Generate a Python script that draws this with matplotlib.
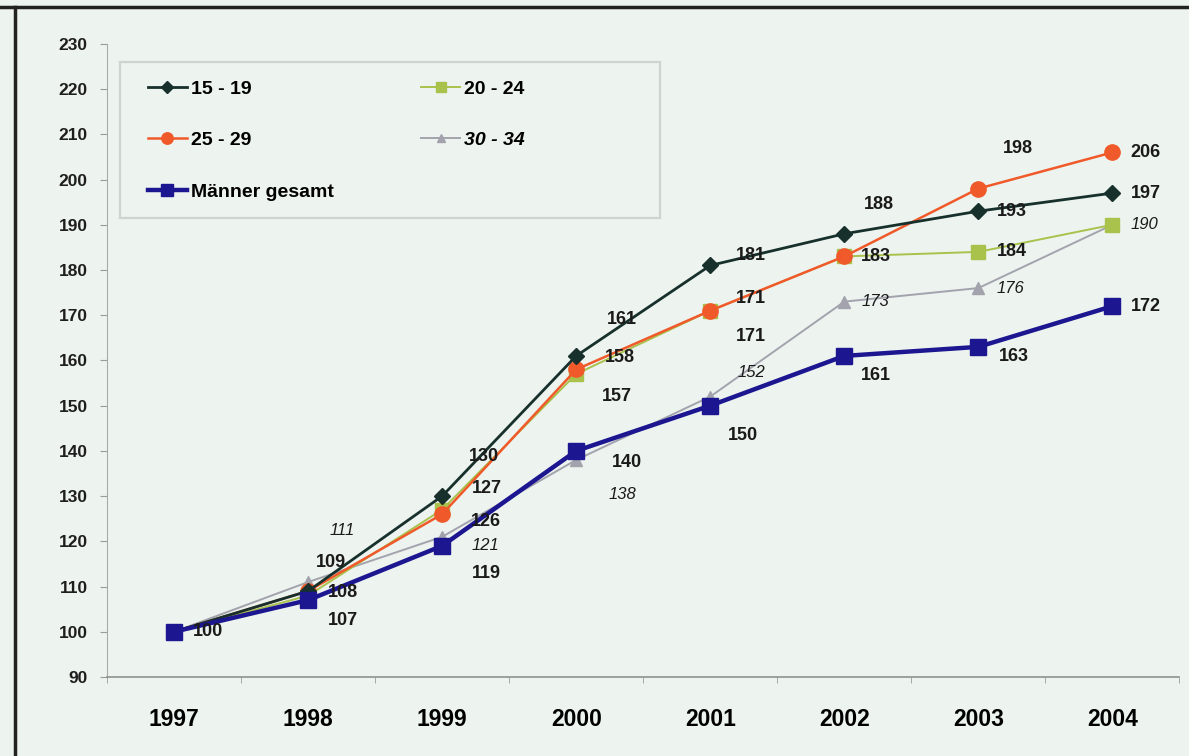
import matplotlib.pyplot as plt
import matplotlib.lines as mlines
import matplotlib.patches as mpatches

# data
years = ['1997', '1998', '1999', '2000', '2001', '2002', '2003', '2004']
age_15_19 = [100, 109, 130, 161, 181, 188, 193, 197]
age_20_24 = [100, 108, 127, 157, 171, 183, 184, 190]
age_25_29 = [100, 109, 126, 158, 171, 183, 198, 206]
age_30_34 = [100, 111, 121, 138, 152, 173, 176, 190]
maenner = [100, 107, 119, 140, 150, 161, 163, 172]

plt.rcParams['font.family'] = ['Liberation Sans', 'DejaVu Sans']

bg = '#edf3ef'
fig = plt.figure(figsize=(11.89, 7.56), dpi=100)
fig.patch.set_facecolor(bg)
ax = fig.add_axes([0.090, 0.1045, 0.902, 0.8375])
ax.set_facecolor(bg)

x = list(range(len(years)))

# series styles: (values, label, color, marker, ms, lw)
series = [
    (age_15_19, '15 - 19', '#17302c', 'D', 8, 2.0),
    (age_25_29, '25 - 29', '#f05a2a', 'o', 11, 1.8),
    (maenner, 'Männer gesamt', '#1c1690', 's', 12, 3.2),
    (age_20_24, '20 - 24', '#a9c24c', 's', 10, 1.4),
    (age_30_34, '30 - 34', '#a3a3ad', '^', 8, 1.4),
]

# draw order: background series first
draw_order = [4, 3, 1, 0, 2]
handles = {}
for i in draw_order:
    vals, lab, col, mk, ms, lw = series[i]
    ln, = ax.plot(x, vals, color=col, marker=mk, markersize=ms, lw=lw,
                  markeredgecolor=col, label=lab, zorder=3 + (i == 2))
    handles[i] = ln

# value labels: (series values, index, dx px, dy px (down positive), ha, italic)
labels = [
    (maenner, 0, 19, 0, 'left', False),
    (age_30_34, 1, 34, -52, 'center', True),
    (age_15_19, 1, 23, -29, 'center', False),
    (age_20_24, 1, 20, -3, 'left', False),
    (maenner, 1, 20, 20, 'left', False),
    (age_15_19, 2, 42, -40, 'center', False),
    (age_20_24, 2, 30, -21, 'left', False),
    (age_25_29, 2, 29, 7, 'left', False),
    (age_30_34, 2, 29, 9, 'left', True),
    (maenner, 2, 30, 28, 'left', False),
    (age_15_19, 3, 46, -36, 'center', False),
    (age_25_29, 3, 29, -12, 'left', False),
    (age_20_24, 3, 26, 23, 'left', False),
    (maenner, 3, 36, 12, 'left', False),
    (age_30_34, 3, 46, 35, 'center', True),
    (age_15_19, 4, 26, -10, 'left', False),
    (age_25_29, 4, 26, -12, 'left', False),
    (age_20_24, 4, 26, 26, 'left', False),
    (age_30_34, 4, 27, -24, 'left', True),
    (maenner, 4, 33, 30, 'center', False),
    (age_15_19, 5, 35, -29, 'center', False),
    (age_25_29, 5, 17, 0, 'left', False),
    (age_30_34, 5, 17, 0, 'left', True),
    (maenner, 5, 17, 20, 'left', False),
    (age_25_29, 6, 39, -40, 'center', False),
    (age_15_19, 6, 18, 0, 'left', False),
    (age_20_24, 6, 18, 0, 'left', False),
    (age_30_34, 6, 18, 0, 'left', True),
    (maenner, 6, 20, 10, 'left', False),
    (age_25_29, 7, 18, 0, 'left', False),
    (age_15_19, 7, 18, 0, 'left', False),
    (age_30_34, 7, 18, 0, 'left', True),
    (maenner, 7, 18, 0, 'left', False),
]
for vals, i, dx, dy, ha, it in labels:
    ax.annotate(str(vals[i]), (i, vals[i]), xytext=(dx, -dy),
                textcoords='offset pixels', ha=ha, va='center',
                fontsize=13 if not it else 12,
                fontweight='normal' if it else 'bold',
                fontstyle='italic' if it else 'normal',
                color='#1a1a1a', zorder=6)

ax.set_xlim(-0.5, 7.5)
ax.set_ylim(90, 230)
ax.set_yticks(range(90, 231, 10))
ax.set_xticks(x)
ax.set_xticklabels(years)
ax.set_xticks([i + 0.5 for i in range(-1, 8)], minor=True)
ax.tick_params(axis='x', which='major', length=0, labelsize=16.5, pad=22)
ax.tick_params(axis='x', which='minor', length=4, color='#9a9a9a')
ax.tick_params(axis='y', length=5, color='#9a9a9a', labelsize=12.5, pad=9,
               labelcolor='#1e1e1e')
for t in ax.get_xticklabels() + ax.get_yticklabels():
    t.set_fontweight('bold')
for s in ['top', 'right']:
    ax.spines[s].set_visible(False)
ax.spines['left'].set_color('#a8aca9')
ax.spines['bottom'].set_color('#8e928f')
ax.spines['bottom'].set_linewidth(1.2)

# legend box drawn separately
W, H = 1189.0, 756.0
fig.add_artist(mpatches.Rectangle((120 / W, 1 - 218 / H), 540 / W, 156 / H,
                                  transform=fig.transFigure, facecolor=bg,
                                  edgecolor='#d0d4d1', lw=1.6, zorder=5))
leg = fig.legend([handles[i] for i in range(5)], [series[i][1] for i in range(5)],
                 ncol=2, loc='upper left', bbox_to_anchor=(148 / W, 1 - 80 / H),
                 frameon=False, prop={'weight': 'bold', 'size': 14},
                 handlelength=2.0, columnspacing=4.5, labelspacing=1.75,
                 borderpad=0, borderaxespad=0, handletextpad=0.2,
                 markerscale=0.75)
leg.set_zorder(6)
for t in leg.get_texts():
    if t.get_text() == '30 - 34':
        t.set_fontstyle('italic')

# outer frame
fig.add_artist(mlines.Line2D([0, 1], [0.991, 0.991], color='#222222', lw=2.5,
                             transform=fig.transFigure))
fig.add_artist(mlines.Line2D([0.013, 0.013], [0, 0.991], color='#222222', lw=2.5,
                             transform=fig.transFigure))

fig.savefig('out.png', dpi=100, facecolor=fig.get_facecolor())
